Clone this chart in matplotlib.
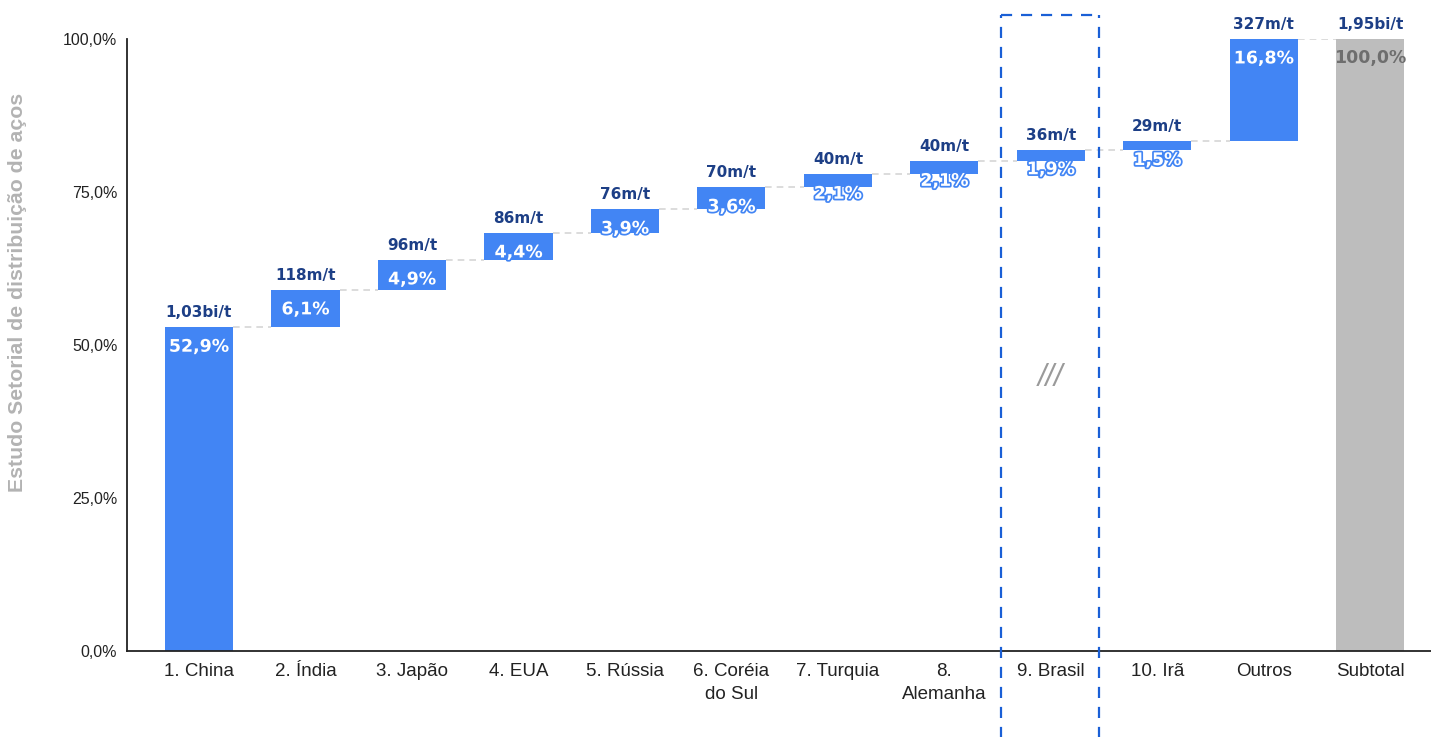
import numpy as np
import matplotlib.pyplot as plt
import matplotlib.patheffects as pe
from matplotlib.lines import Line2D

# dados do gráfico (participação % na produção de aço)
paises = ['1. China', '2. Índia', '3. Japão', '4. EUA', '5. Rússia', '6. Coréia\ndo Sul',
          '7. Turquia', '8.\nAlemanha', '9. Brasil', '10. Irã', 'Outros', 'Subtotal']
participacao = [52.9, 6.1, 4.9, 4.4, 3.9, 3.6, 2.1, 2.1, 1.9, 1.5, 16.8, 100.0]
producao = ['1,03bi/t', '118m/t', '96m/t', '86m/t', '76m/t', '70m/t', '40m/t',
            '40m/t', '36m/t', '29m/t', '327m/t', '1,95bi/t']
yticks = [0, 25, 50, 75, 100]

azul = '#4285f4'
cinza = '#bdbdbd'
azul_escuro = '#1d3f86'

fig = plt.figure(figsize=(14.31, 7.37), dpi=100)
ax = fig.add_axes([127 / 1431, 1 - 651 / 737, 1 - 127 / 1431, (651 - 39) / 737])

x = np.arange(len(paises))
largura = 0.64

# bases da cascata
base = []
acum = 0.0
for v in participacao[:-1]:
    base.append(acum)
    acum += v
base.append(0.0)
topo = [b + v for b, v in zip(base, participacao)]
topo[-2] = min(topo[-2], 100.0)
alturas = [t - b for t, b in zip(topo, base)]

cores = [azul] * (len(paises) - 1) + [cinza]
ax.bar(x, alturas, bottom=base, width=largura, color=cores, zorder=2)

# linhas de ligação entre as barras
for i in range(len(paises) - 1):
    nivel = topo[i]
    ax.plot([x[i] + largura / 2, x[i + 1] - largura / 2], [nivel, nivel],
            color='#d6d6d6', lw=1.2, ls=(0, (4, 3)), zorder=1)

# rótulos
for i in range(len(paises)):
    ax.annotate(producao[i], (x[i], topo[i]), xytext=(0, 5), textcoords='offset points',
                ha='center', va='bottom', fontsize=11, fontweight='bold',
                color=azul_escuro, family='DejaVu Sans', annotation_clip=False)
    pct = f'{participacao[i]:.1f}%'.replace('.', ',')
    if i == len(paises) - 1:
        ax.annotate(pct, (x[i], topo[i]), xytext=(0, -14), textcoords='offset points',
                    ha='center', va='center', fontsize=12.5, fontweight='bold',
                    color='#6e6e6e', family='DejaVu Sans')
    else:
        ax.annotate(pct, (x[i], topo[i]), xytext=(0, -14), textcoords='offset points',
                    ha='center', va='center', fontsize=12.5, fontweight='bold',
                    color='white', family='DejaVu Sans',
                    path_effects=[pe.withStroke(linewidth=2.5, foreground=azul)])

ax.text(8, 44.6, '///', ha='center', va='center', fontsize=22, color='#9a9a9a',
        style='italic', family='Liberation Sans')

ax.set_xlim(-0.676, 11.57)
ax.set_ylim(0, 100)
ax.set_yticks(yticks)
ax.set_yticklabels([f'{t:.1f}%'.replace('.', ',') for t in yticks])
ax.set_xticks(x)
ax.set_xticklabels(paises)
for lbl in ax.get_xticklabels():
    lbl.set_family('Liberation Sans')
    lbl.set_fontsize(13.5)
    lbl.set_color('#222222')
    lbl.set_linespacing(1.45)
for lbl in ax.get_yticklabels():
    lbl.set_family('Liberation Sans')
    lbl.set_fontsize(11.5)
    lbl.set_color('#222222')
ax.tick_params(axis='both', length=0)
ax.tick_params(axis='y', pad=7)
ax.tick_params(axis='x', pad=9)
ax.spines['top'].set_visible(False)
ax.spines['right'].set_visible(False)
ax.spines['left'].set_color('#222222')
ax.spines['bottom'].set_color('#222222')
ax.spines['left'].set_linewidth(1.3)
ax.spines['bottom'].set_linewidth(1.3)

fig.text(18 / 1431, 1 - 292 / 737, 'Estudo Setorial de distribuição de aços',
         rotation=90, ha='center', va='center', fontsize=15.3, fontweight='bold',
         color='#b3b3b3', family='Liberation Sans')

# caixa tracejada destacando o Brasil
x0, x1 = 1001 / 1431, 1099 / 1431
y0, y1 = -0.01, 1 - 15 / 737
estilo = dict(color='#1a5fd6', lw=1.6, ls=(0, (5, 4)))
fig.add_artist(Line2D([x0, x0], [y0, y1], **estilo))
fig.add_artist(Line2D([x1, x1], [y0, y1], **estilo))
fig.add_artist(Line2D([x0, x1], [y1, y1], **estilo))

fig.savefig('out.png', dpi=100)
